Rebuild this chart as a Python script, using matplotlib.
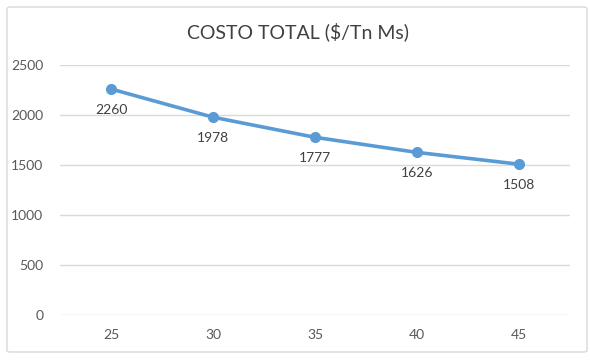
import matplotlib.pyplot as plt
from matplotlib.patches import FancyBboxPatch

# datos
categorias = ['25', '30', '35', '40', '45']
costo = [2260, 1978, 1777, 1626, 1508]

plt.rcParams['font.family'] = ['Lato', 'DejaVu Sans']

fig = plt.figure(figsize=(5.9, 3.6), dpi=100)
ax = fig.add_axes([60 / 590, 1 - 315 / 360, 510 / 590, 250 / 360])

# marco del grafico
marco = FancyBboxPatch((7 / 590, 8 / 360), 580 / 590, 345 / 360,
                       boxstyle='round,pad=0,rounding_size=0.005',
                       transform=fig.transFigure, facecolor='none',
                       edgecolor='#D9D9D9', linewidth=1)
fig.patches.append(marco)

x = range(len(categorias))
ax.plot(x, costo, color='#5B9BD5', linewidth=2.6, marker='o', markersize=7,
        zorder=3)
for i, v in enumerate(costo):
    ax.annotate(str(v), (i, v), xytext=(0, -15), textcoords='offset points',
                ha='center', va='center', fontsize=10, color='#404040')

ax.set_xlim(-0.5, len(categorias) - 0.5)
ax.set_ylim(0, 2500)
ax.set_yticks(range(0, 2501, 500))
ax.set_xticks(list(x))
ax.set_xticklabels(categorias)
ax.grid(axis='y', color='#D9D9D9', linewidth=1)
ax.set_axisbelow(True)
for s in ax.spines.values():
    s.set_visible(False)
ax.tick_params(length=0, labelsize=10, labelcolor='#595959', pad=10)
ax.tick_params(axis='y', pad=12)

fig.text(298 / 590, 1 - 32 / 360, 'COSTO TOTAL ($/Tn Ms)', ha='center',
         va='center', fontsize=14, color='#404040')

fig.savefig('out.png', dpi=100)
